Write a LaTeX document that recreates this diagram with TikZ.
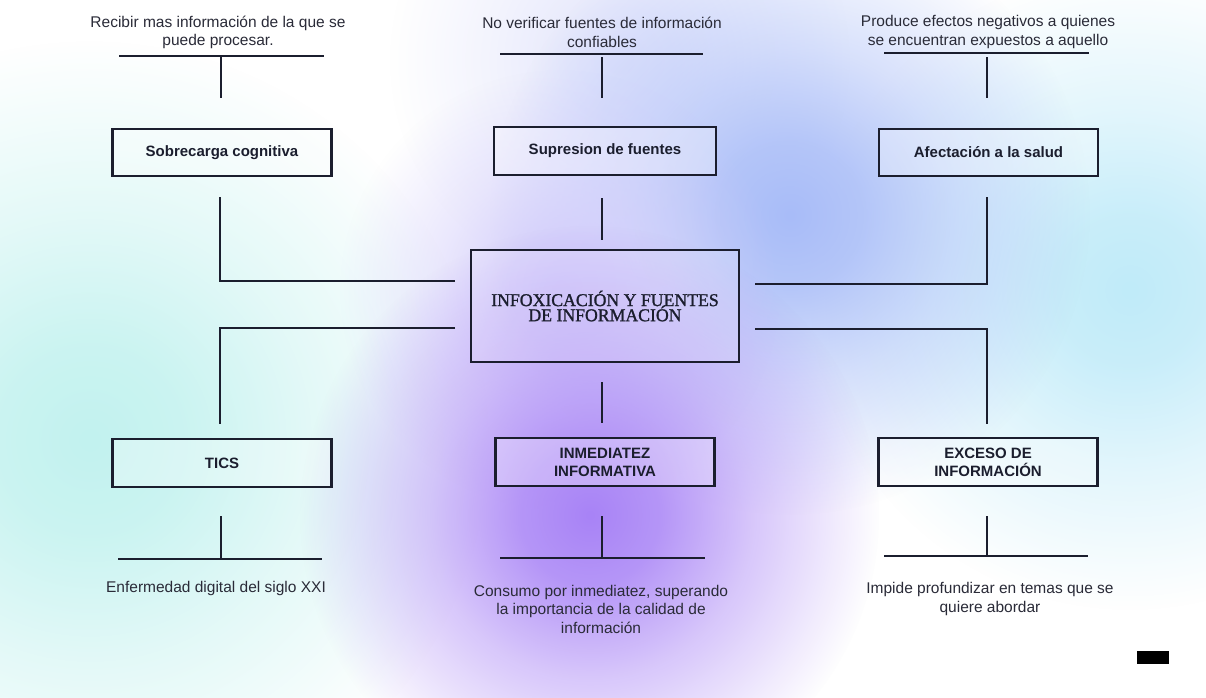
\documentclass[tikz,border=0pt]{standalone}
\usepackage{fontspec}
\setmainfont{Liberation Sans}
\newfontfamily\titlefont[FakeBold=1.3]{Liberation Serif}
\usetikzlibrary{fadings}
\pgfdeclareradialshading{softsh}{\pgfpointorigin}{color(0bp)=(white); color(6bp)=(white!85!black); color(14bp)=(white!45!black); color(25bp)=(black); color(50bp)=(black)}
\pgfdeclarefading{softfade}{\pgfuseshading{softsh}}
\definecolor{ink}{HTML}{1B1E2E}
\definecolor{txt}{HTML}{2A2B38}
\definecolor{cyanblob}{HTML}{C2F2EF}
\definecolor{cyanblobr}{HTML}{C0EBF9}
\definecolor{blueblob}{HTML}{A8BCF8}
\definecolor{purpleblob}{HTML}{A883F6}
\definecolor{lavblob}{HTML}{D2CCFB}
\definecolor{paleblob}{HTML}{E4E6FC}
\begin{document}
\begin{tikzpicture}[x=1pt,y=-1pt,
  box/.style={draw=ink, line width=2.4pt, fill=white, fill opacity=0.3, text opacity=1,
    minimum width=219pt, minimum height=47pt, inner sep=0pt, align=center,
    font=\fontsize{15}{18}\selectfont\bfseries, text=ink},
  mainbox/.style={draw=ink, line width=2.4pt, fill=white, fill opacity=0.15, text opacity=1,
    minimum width=268pt, minimum height=112pt, inner sep=0pt, align=center,
    font=\titlefont\fontsize{18}{14}\selectfont, text=ink},
  desc/.style={align=center, inner sep=0pt, text=txt, font=\fontsize{15.5}{18.5}\selectfont},
  conn/.style={draw=ink, line width=1.4pt},
  blob/.style={path fading=softfade}]
\useasboundingbox (0,0) rectangle (1206,697);
% background
\fill[white] (0,0) rectangle (1206,697);
\begin{scope}
\clip (0,0) rectangle (1206,697);
\fill[paleblob, blob] (620,60) circle (230);
\fill[cyanblob, blob] (90,440) circle (400);
\fill[cyanblobr, blob] (1130,290) circle (320);
\fill[blueblob, blob] (790,215) circle (300);
\fill[lavblob, blob] (560,290) circle (220);
\fill[purpleblob, blob] (590,515) circle (290);
\end{scope}
% nodes
\node[box] (sob) at (222,152.5) {Sobrecarga cognitiva};
\node[box, minimum width=222pt, minimum height=48pt] (sup) at (605,151) {Supresion de fuentes};
\node[box] (afe) at (988.5,152.5) {Afectación a la salud};
\node[mainbox] (main) at (605,306) {\scalebox{0.985}[1]{INFOXICACIÓN Y FUENTES}\\[-1.5pt]\scalebox{0.985}[1]{DE INFORMACIÓN}};
\node[box, minimum height=48pt] (tic) at (222,463) {TICS};
\node[box, minimum height=48pt] (inm) at (605,462) {INMEDIATEZ\\INFORMATIVA};
\node[box, minimum height=48pt] (exc) at (988,462) {EXCESO DE\\INFORMACIÓN};
% descriptions
\node[desc] (d1) at (218,32.5) {Recibir mas información de la que se\\puede procesar.};
\node[desc] (d2) at (602,32.5) {No verificar fuentes de información\\confiables};
\node[desc] (d3) at (988,32) {Produce efectos negativos a quienes\\se encuentran expuestos a aquello};
\node[desc] (d4) at (216,588) {Enfermedad digital del siglo XXI};
\node[desc] (d5) at (601,609) {Consumo por inmediatez, superando\\la importancia de la calidad de\\información};
\node[desc] (d6) at (990,599) {Impide profundizar en temas que se\\quiere abordar};
% top stubs
\coordinate (u1a) at (119,56); \coordinate (u1b) at (324,56);
\coordinate (v1a) at (221,56); \coordinate (v1b) at (221,98);
\coordinate (u2a) at (500,54); \coordinate (u2b) at (703,54);
\coordinate (v2a) at (602,57); \coordinate (v2b) at (602,98);
\coordinate (u3a) at (884,53); \coordinate (u3b) at (1089,53);
\coordinate (v3a) at (987,57); \coordinate (v3b) at (987,98);
\draw[conn] (u1a) -- (u1b); \draw[conn] (v1a) -- (v1b);
\draw[conn] (u2a) -- (u2b); \draw[conn] (v2a) -- (v2b);
\draw[conn] (u3a) -- (u3b); \draw[conn] (v3a) -- (v3b);
% links to main
\coordinate (l1a) at (220,197); \coordinate (l1b) at (455,281);
\coordinate (l2a) at (602,198); \coordinate (l2b) at (602,240);
\coordinate (l3a) at (987,197); \coordinate (l3b) at (755,284);
\coordinate (l4a) at (455,328); \coordinate (l4b) at (220,424);
\coordinate (l5a) at (602,382); \coordinate (l5b) at (602,423);
\coordinate (l6a) at (755,329); \coordinate (l6b) at (987,424);
\draw[conn] (l1a) |- (l1b);
\draw[conn] (l2a) -- (l2b);
\draw[conn] (l3a) |- (l3b);
\draw[conn] (l4a) -| (l4b);
\draw[conn] (l5a) -- (l5b);
\draw[conn] (l6a) -| (l6b);
% bottom stubs
\coordinate (w1a) at (221,516); \coordinate (w1b) at (221,559);
\coordinate (x1a) at (118,559); \coordinate (x1b) at (322,559);
\coordinate (w2a) at (602,516); \coordinate (w2b) at (602,558);
\coordinate (x2a) at (500,558); \coordinate (x2b) at (705,558);
\coordinate (w3a) at (987,516); \coordinate (w3b) at (987,556);
\coordinate (x3a) at (884,556); \coordinate (x3b) at (1088,556);
\draw[conn] (w1a) -- (w1b); \draw[conn] (x1a) -- (x1b);
\draw[conn] (w2a) -- (w2b); \draw[conn] (x2a) -- (x2b);
\draw[conn] (w3a) -- (w3b); \draw[conn] (x3a) -- (x3b);
% black mark
\fill[black] (1137,651) rectangle (1169,664);
\end{tikzpicture}
\end{document}
